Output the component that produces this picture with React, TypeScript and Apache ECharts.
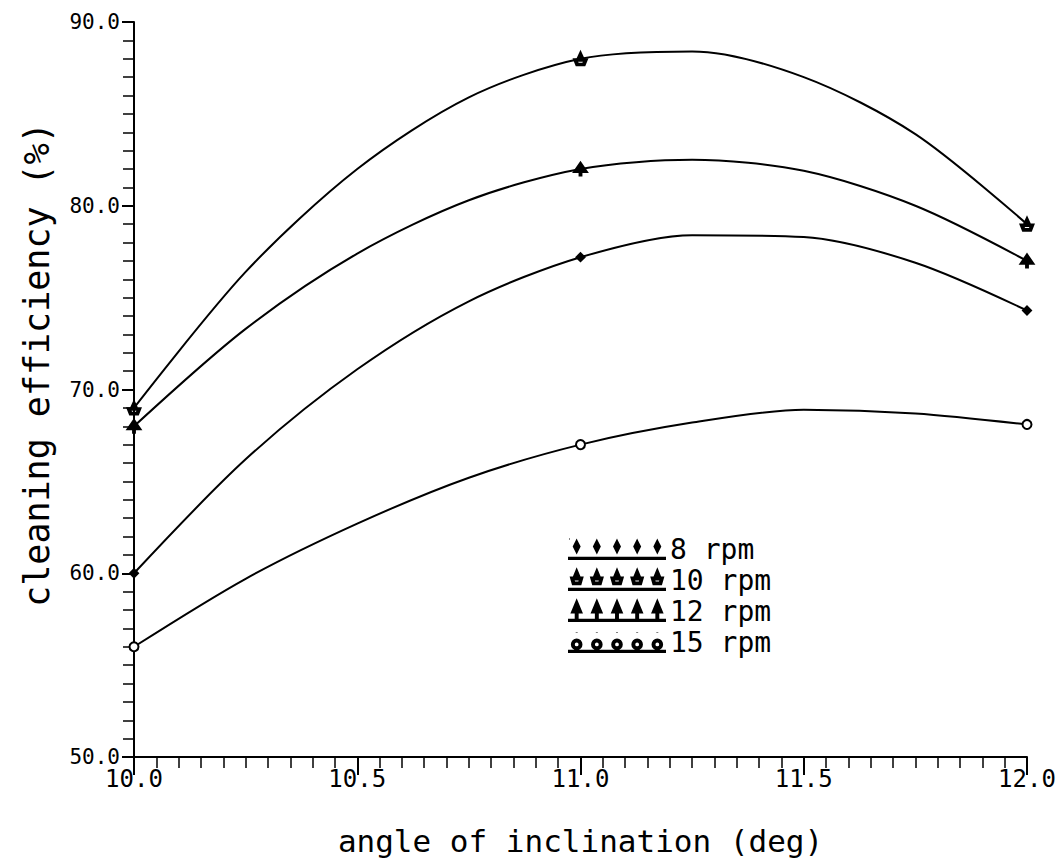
import React, { useEffect, useRef } from "react";
import * as echarts from "echarts";

// angle of inclination (deg) at which the curves were read
const angles = [10, 10.25, 10.5, 10.75, 11, 11.25, 11.5, 11.75, 12];
// measured points shown with markers (indices into angles)
const markerIdx = [0, 4, 8];

const rpm8 = [60.0, 66.2, 71.1, 74.8, 77.2, 78.4, 78.3, 76.9, 74.3];
const rpm10 = [69.0, 76.4, 82.0, 85.9, 88.0, 88.4, 87.0, 83.9, 79.0];
const rpm12 = [68.0, 73.3, 77.4, 80.3, 82.0, 82.5, 81.9, 80.0, 77.0];
const rpm15 = [56.0, 59.7, 62.7, 65.2, 67.0, 68.2, 68.9, 68.7, 68.1];

const seriesNames = ["8 rpm", "10 rpm", "12 rpm", "15 rpm"];
const seriesValues = [rpm8, rpm10, rpm12, rpm15];

const xTicks = [10, 10.5, 11, 11.5, 12];
const yTicks = [50, 60, 70, 80, 90];

const FONT = "DejaVu Sans Mono";

// marker shapes
const bellShape =
  "M10 0 L13 7 L7 7 Z M2 9 L18 9 L15 17 L5 17 Z M5 11 L7 15 L13 15 L15 11 Z";
const treeShape = "M10 0 L17 13 L11 13 L11 18 L9 18 L9 13 L3 13 Z";

const markerSymbols = [
  { symbol: "diamond", size: 8 },
  { symbol: "path://" + bellShape, size: 13 },
  { symbol: "path://" + treeShape, size: 13 },
  { symbol: "emptyCircle", size: 9 },
];

// legend icons: underline with five samples of the marker
const centers = [8, 29, 50, 71, 92];
const baseLine = "M0 19.6 L100 19.6 L100 21 L0 21 Z";
function diamondAt(c: number) {
  return `M${c} 2 L${c + 3} 8 L${c} 14 L${c - 3} 8 Z`;
}
function bellAt(c: number) {
  return `M${c} 0 L${c + 2.5} 6 L${c - 2.5} 6 Z M${c - 6} 8 L${c + 6} 8 L${c + 4} 15 L${c - 4} 15 Z M${c - 3.5} 10 L${c - 2.5} 13 L${c + 2.5} 13 L${c + 3.5} 10 Z`;
}
function treeAt(c: number) {
  return `M${c} 0 L${c + 5} 12 L${c + 1} 12 L${c + 1} 19 L${c - 1} 19 L${c - 1} 12 L${c - 5} 12 Z`;
}
function ringAt(c: number) {
  return `M${c - 5} 13 A5 5 0 1 1 ${c + 5} 13 A5 5 0 1 1 ${c - 5} 13 Z M${c - 3} 13 A3 3 0 1 0 ${c + 3} 13 A3 3 0 1 0 ${c - 3} 13 Z M${c} 0 L${c} 0.5 Z`;
}
const legendIcons = [
  "path://" + baseLine + " " + centers.map(diamondAt).join(" ") + " M0 0 L0.5 0 Z",
  "path://" + baseLine + " " + centers.map(bellAt).join(" "),
  "path://" + baseLine + " " + centers.map(treeAt).join(" "),
  "path://" + baseLine + " " + centers.map(ringAt).join(" "),
];

export default function App() {
  const ref = useRef<HTMLDivElement>(null);

  useEffect(() => {
    if (!ref.current) return;
    const chart = echarts.init(ref.current, undefined, { renderer: "svg" });

    const series = seriesNames.map((name, si) => ({
      name,
      type: "line",
      smooth: 0.3,
      showAllSymbol: true,
      symbol: markerSymbols[si].symbol,
      symbolSize: markerSymbols[si].size,
      lineStyle: { color: "#000", width: 2 },
      itemStyle: { color: "#000", borderColor: "#000", borderWidth: 2 },
      data: angles.map((x, i) =>
        markerIdx.includes(i)
          ? { value: [x, seriesValues[si][i]] }
          : { value: [x, seriesValues[si][i]], symbol: "none" }
      ),
      z: 3,
    }));

    chart.setOption({
      animation: false,
      backgroundColor: "#fff",
      grid: { left: 134, right: 36, top: 22, bottom: 107, outerBoundsMode: "none", containLabel: false },
      legend: {
        orient: "vertical",
        left: 563,
        top: 530,
        itemWidth: 96,
        itemHeight: 21,
        itemGap: 3,
        data: seriesNames.map((n, i) => ({ name: n, icon: legendIcons[i] })),
        textStyle: { fontFamily: FONT, fontSize: 28, lineHeight: 28, color: "#000" },
        itemStyle: { color: "#000" },
        selectedMode: false,
      },
      xAxis: {
        type: "value",
        min: xTicks[0],
        max: xTicks[xTicks.length - 1],
        interval: 0.5,
        name: "angle of inclination (deg)",
        nameLocation: "middle",
        nameGap: 68,
        nameTextStyle: { fontFamily: FONT, fontSize: 31, color: "#000" },
        axisLine: { show: true, lineStyle: { color: "#000", width: 2 } },
        axisTick: { show: true, length: 18, lineStyle: { color: "#000", width: 2 } },
        minorTick: { show: true, splitNumber: 10, length: 11, lineStyle: { color: "#000", width: 1.5 } },
        splitLine: { show: false },
        axisLabel: {
          fontFamily: FONT,
          fontSize: 24,
          color: "#000",
          margin: 10,
          formatter: (v: number) => v.toFixed(1),
        },
      },
      yAxis: {
        type: "value",
        min: yTicks[0],
        max: yTicks[yTicks.length - 1],
        interval: 10,
        name: "cleaning efficiency (%)",
        nameLocation: "middle",
        nameRotate: 90,
        nameGap: 80,
        nameTextStyle: { fontFamily: FONT, fontSize: 35, color: "#000", padding: [0, 0, 0, 50] },
        axisLine: { show: true, lineStyle: { color: "#000", width: 2 } },
        axisTick: { show: true, length: 12, lineStyle: { color: "#000", width: 2 } },
        minorTick: { show: true, splitNumber: 10, length: 11, lineStyle: { color: "#000", width: 1.5 } },
        splitLine: { show: false },
        axisLabel: {
          fontFamily: FONT,
          fontSize: 21,
          color: "#000",
          margin: 14,
          formatter: (v: number) => v.toFixed(1),
        },
      },
      series,
    });

    return () => chart.dispose();
  }, []);

  return (
    <div
      ref={ref}
      style={{ position: "fixed", left: 0, top: 0, width: 1063, height: 864, background: "#fff" }}
    />
  );
}
